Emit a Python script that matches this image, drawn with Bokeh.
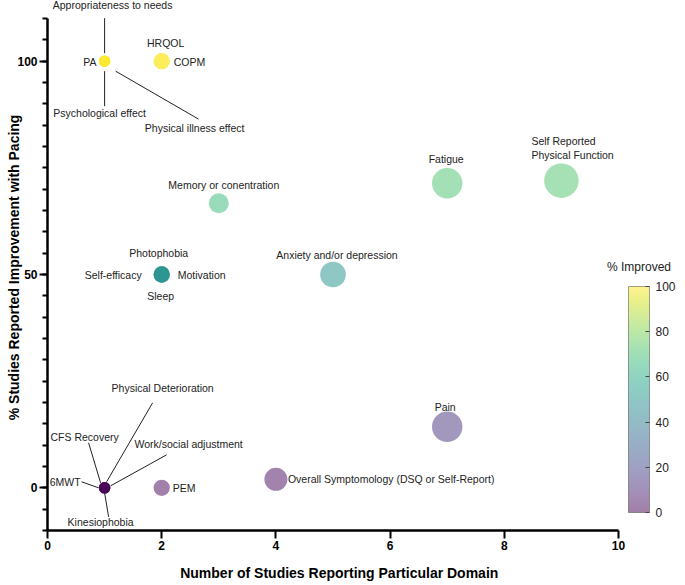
import math
from bokeh.plotting import figure
from bokeh.models import ColorBar, LinearColorMapper, FixedTicker, ColumnDataSource, Label
from bokeh.palettes import Viridis256
from bokeh.core.properties import value
from bokeh.embed import file_html
from bokeh.resources import INLINE

# ---------------- data ----------------
domains = [
    "Appropriateness to needs", "PA", "Psychological effect", "Physical illness effect",
    "HRQOL", "COPM",
    "Memory or conentration", "Fatigue", "Self Reported\nPhysical Function",
    "Photophobia", "Self-efficacy", "Motivation", "Sleep",
    "Anxiety and/or depression",
    "Physical Deterioration", "CFS Recovery", "Work/social adjustment", "6MWT", "Kinesiophobia",
    "PEM", "Overall Symptomology (DSQ or Self-Report)", "Pain",
]
n_studies = [1, 1, 1, 1, 2, 2, 3, 7, 9, 2, 2, 2, 2, 5, 1, 1, 1, 1, 1, 2, 4, 7]
pct_improved = [100, 100, 100, 100, 100, 100, 66.7, 71.4, 72, 50, 50, 50, 50, 50,
                0, 0, 0, 0, 0, 0, 2, 14.3]
x_ticks = [0, 2, 4, 6, 8, 10]
y_ticks = [0, 50, 100]
cbar_ticks = [0, 20, 40, 60, 80, 100]

# ---------------- label layout (screen px offsets from each bubble) ----------------
lab_dx = [8, -8, -5, 90, 4, 12, 5, -1, -30, -3, -20, 16, -1, 4, 58, -20, 84, -24, -4, 11, 12, -2]
lab_dy = [-56, 1, 52, 67, -18, 1, -18, -24, -33, -22, 0, 0, 21, -20, -100, -51, -44, -6, 34, 0, 0, -20]
lab_align = ["center", "right", "center", "center", "center", "left", "center", "center", "left",
             "center", "right", "left", "center", "center", "center", "center", "center", "right",
             "center", "left", "left", "center"]
# leader lines: (index of domain, dx0, dy0, dx1, dy1) in px
leaders = [
    (0, 0, -43, 0, -8),
    (2, 0, 10, 0, 45),
    (3, 11, 10, 94, 58),
    (14, 48, -85, 2, -6),
    (15, -16, -45, -4, -5),
    (16, 62, -33, 6, -2),
    (17, -23, -6, -6, 0),
    (18, 0, 5, 4, 29),
]

FONT = "Liberation Sans"
W, H = 685, 585
ML, MR, MT, MB = 47, 0, 0, 55
FRAME_W, FRAME_H = W - ML - MR, H - MT - MB
AXIS_W = 571                  # the 0..10 x axis occupies 571 px
X0, Y0 = 0, -10
ppx = AXIS_W / 10.0
ppy = 512 / 120.0             # 120 units of the y axis occupy 512 px
X1 = X0 + FRAME_W / ppx
Y1 = Y0 + FRAME_H / ppy

p = figure(width=W, height=H, x_range=(X0, X1), y_range=(Y0, Y1),
           output_backend="svg", toolbar_location=None,
           min_border_left=ML, min_border_right=MR, min_border_top=MT, min_border_bottom=MB)
p.outline_line_color = None
p.xgrid.visible = False
p.ygrid.visible = False
p.background_fill_color = "white"

mapper = LinearColorMapper(palette=Viridis256, low=0, high=100)

src = ColumnDataSource(dict(
    x=n_studies, y=pct_improved, label=domains,
    size=[11.5 * math.sqrt(n) for n in n_studies],
    dx=lab_dx, dy=lab_dy, align=lab_align,
))

# leader lines
lx0 = [n_studies[i] + a / ppx for i, a, b, c, d in leaders]
ly0 = [pct_improved[i] - b / ppy for i, a, b, c, d in leaders]
lx1 = [n_studies[i] + c / ppx for i, a, b, c, d in leaders]
ly1 = [pct_improved[i] - d / ppy for i, a, b, c, d in leaders]
p.segment(x0=lx0, y0=ly0, x1=lx1, y1=ly1, line_color="#222222", line_width=1)

p.scatter(x="x", y="y", size="size", source=src,
          fill_color={"field": "y", "transform": mapper}, fill_alpha=0.5, line_color=None)

p.text(x="x", y="y", text="label", source=src, x_offset="dx", y_offset="dy",
       text_align="align", text_baseline="middle", text_font=value(FONT),
       text_font_size="10.5px", text_color="#222222", text_line_height=1.15)

# axes
for ax in (p.xaxis[0], p.yaxis[0]):
    ax.axis_line_width = 2.5
    ax.axis_line_color = "black"
    ax.major_tick_line_width = 2
    ax.major_tick_line_color = "black"
    ax.minor_tick_line_width = 2
    ax.minor_tick_line_color = "black"
    ax.major_tick_in = 0
    ax.major_tick_out = 8
    ax.minor_tick_in = 0
    ax.minor_tick_out = 5
    ax.major_label_text_font = FONT
    ax.major_label_text_font_style = "bold"
    ax.major_label_text_font_size = "12px"
    ax.major_label_text_color = "black"
    ax.axis_label_text_font = FONT
    ax.axis_label_text_font_style = "bold"
    ax.axis_label_text_font_size = "14px"
    ax.axis_label_text_color = "black"
    ax.major_label_standoff = 2

p.xaxis.ticker = FixedTicker(ticks=x_ticks, minor_ticks=[])
p.yaxis.ticker = FixedTicker(ticks=y_ticks, minor_ticks=list(range(-10, 111, 5)))
p.xaxis.bounds = (0, 10)
p.yaxis.bounds = (-10, 110)
# trailing no-break spaces keep the centred title over the 0..10 axis rather than the wider frame
p.xaxis.axis_label = "Number of Studies Reporting Particular Domain" + "\u00a0" * 14
p.yaxis.axis_label = "%  Studies Reported Improvement with Pacing"
p.xaxis.axis_label_standoff = 12
p.yaxis.axis_label_standoff = -8

# colour bar (bar left edge 10 px right of the axis end, bottom 18 px above frame bottom)
CB_X, CB_Y, CB_W, CB_H = AXIS_W + 10, 18, 21, 226
cb = ColorBar(color_mapper=mapper, ticker=FixedTicker(ticks=cbar_ticks),
              width=CB_W, height=CB_H, padding=0, location=(CB_X, CB_Y),
              major_label_text_font=FONT, major_label_text_font_size="12px",
              major_label_text_color="#222222", label_standoff=6,
              scale_alpha=0.5, bar_line_color="#444444", bar_line_width=1,
              major_tick_line_color="#444444", major_tick_in=4, major_tick_out=0,
              background_fill_alpha=0, border_line_color=None)
p.add_layout(cb, "center")

cb_title = Label(x=X0 + (CB_X + CB_W / 2) / ppx, y=Y0 + (CB_Y + CB_H + 13) / ppy,
                 text="% Improved", text_align="center", text_baseline="bottom",
                 text_font=FONT, text_font_size="12px", text_color="#222222")
p.add_layout(cb_title)

open("out.html", "w").write(file_html(p, INLINE))
